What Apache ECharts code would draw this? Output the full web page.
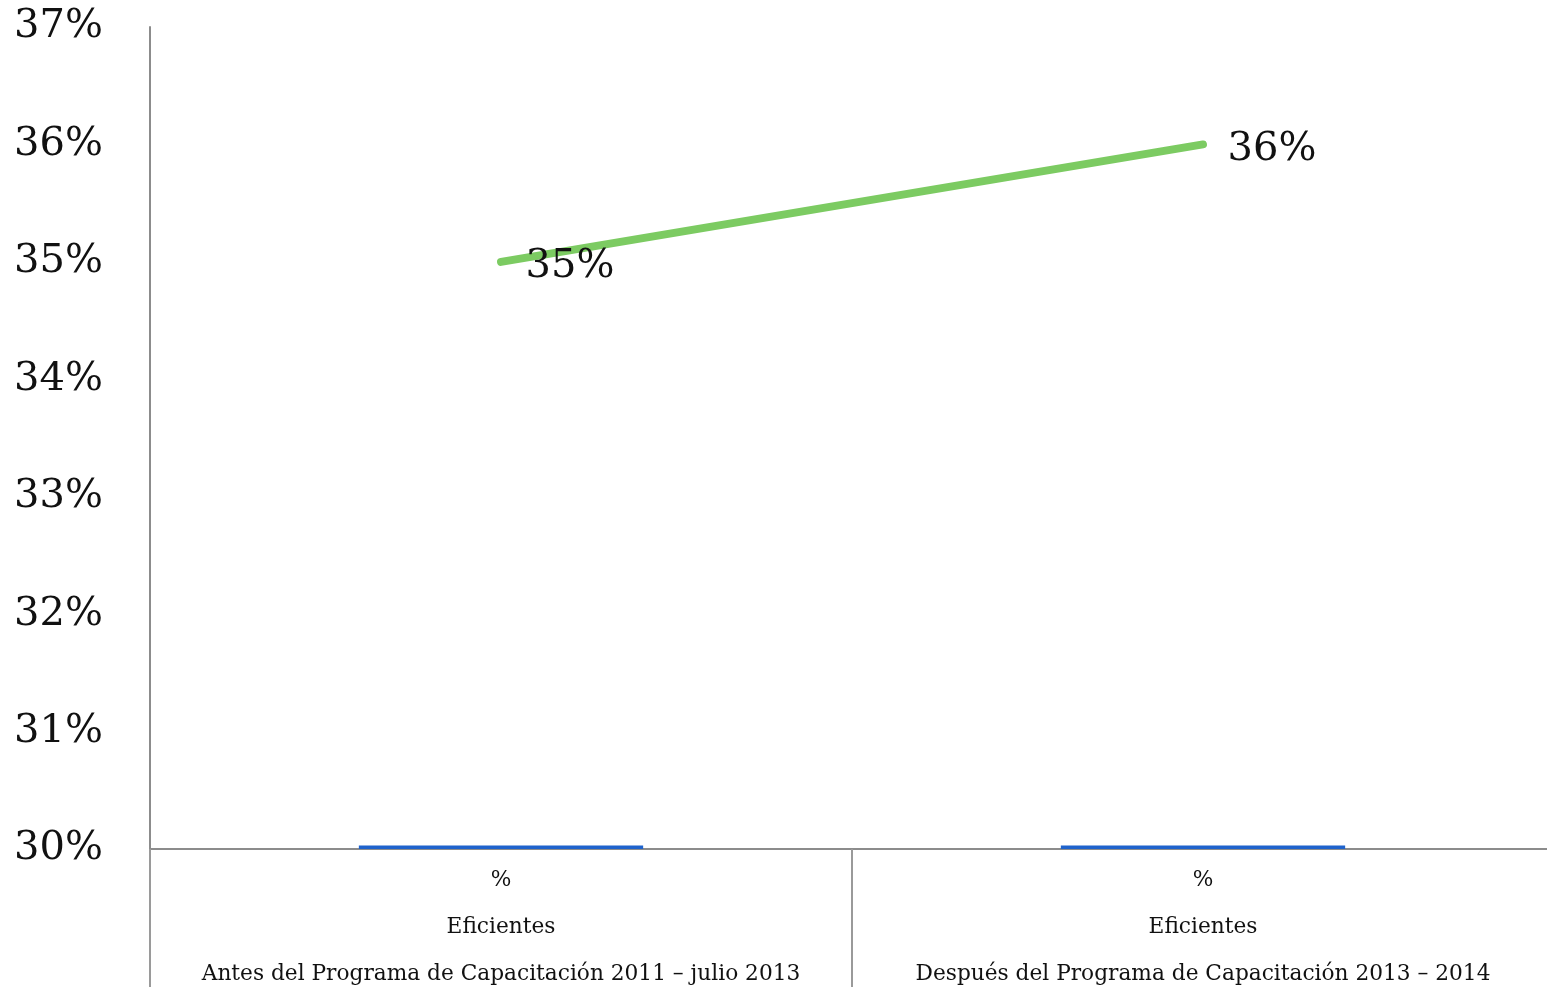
<!DOCTYPE html>
<html>
<head>
<meta charset="utf-8">
<script src="https://cdn.jsdelivr.net/npm/echarts@6/dist/echarts.min.js"></script>
<style>html,body{margin:0;padding:0;background:#fff;overflow:hidden;}#c{position:absolute;left:0;top:0;width:1547px;height:987px;}</style>
</head>
<body>
<div id="c"></div>
<script>
var categories = [
  '%\nEficientes\nAntes del Programa de Capacitación 2011 – julio 2013',
  '%\nEficientes\nDespués del Programa de Capacitación 2013 – 2014'
];
var lineValues = [35, 36];
var barValues = [30.03, 30.03];
var yMin = 30, yMax = 37, yStep = 1;

var chart = echarts.init(document.getElementById('c'), null, {renderer: 'canvas', width: 1547, height: 987});
chart.setOption({
  animation: false,
  backgroundColor: '#fff',
  grid: {left: 150, right: -7, top: 27, bottom: 138, containLabel: false, outerBoundsMode: 'none'},
  xAxis: {
    type: 'category',
    data: categories,
    boundaryGap: true,
    axisLine: {show: true, lineStyle: {color: '#8c8c8c', width: 2}},
    axisTick: {show: true, interval: 0, length: 140, lineStyle: {color: '#9a9a9a', width: 2}},
    axisLabel: {
      interval: 0, margin: 8,
      fontFamily: 'DejaVu Serif', fontSize: 21.7, color: '#111',
      lineHeight: 47, align: 'center'
    },
    splitLine: {show: false}
  },
  yAxis: {
    type: 'value',
    min: yMin, max: yMax, interval: yStep,
    axisLine: {show: true, lineStyle: {color: '#8c8c8c', width: 2}},
    axisTick: {show: false},
    splitLine: {show: false},
    axisLabel: {
      margin: 47, fontFamily: 'DejaVu Serif', fontSize: 40, color: '#111',
      formatter: '{value}%', padding: [6, 0, 0, 0]
    }
  },
  series: [
    {
      type: 'bar',
      data: barValues,
      barWidth: '40.5%',
      itemStyle: {color: '#1f63cc'},
      z: 1
    },
    {
      type: 'line',
      data: lineValues,
      symbol: 'circle',
      symbolSize: 1,
      showSymbol: true,
      itemStyle: {color: '#7ccb62'},
      lineStyle: {color: '#7ccb62', width: 8, cap: 'round'},
      label: {
        show: true, position: 'right', distance: 24,
        fontFamily: 'DejaVu Serif', fontSize: 40, color: '#111',
        formatter: '{c}%', offset: [0, 5]
      },
      z: 3
    }
  ]
});
</script>
</body>
</html>
